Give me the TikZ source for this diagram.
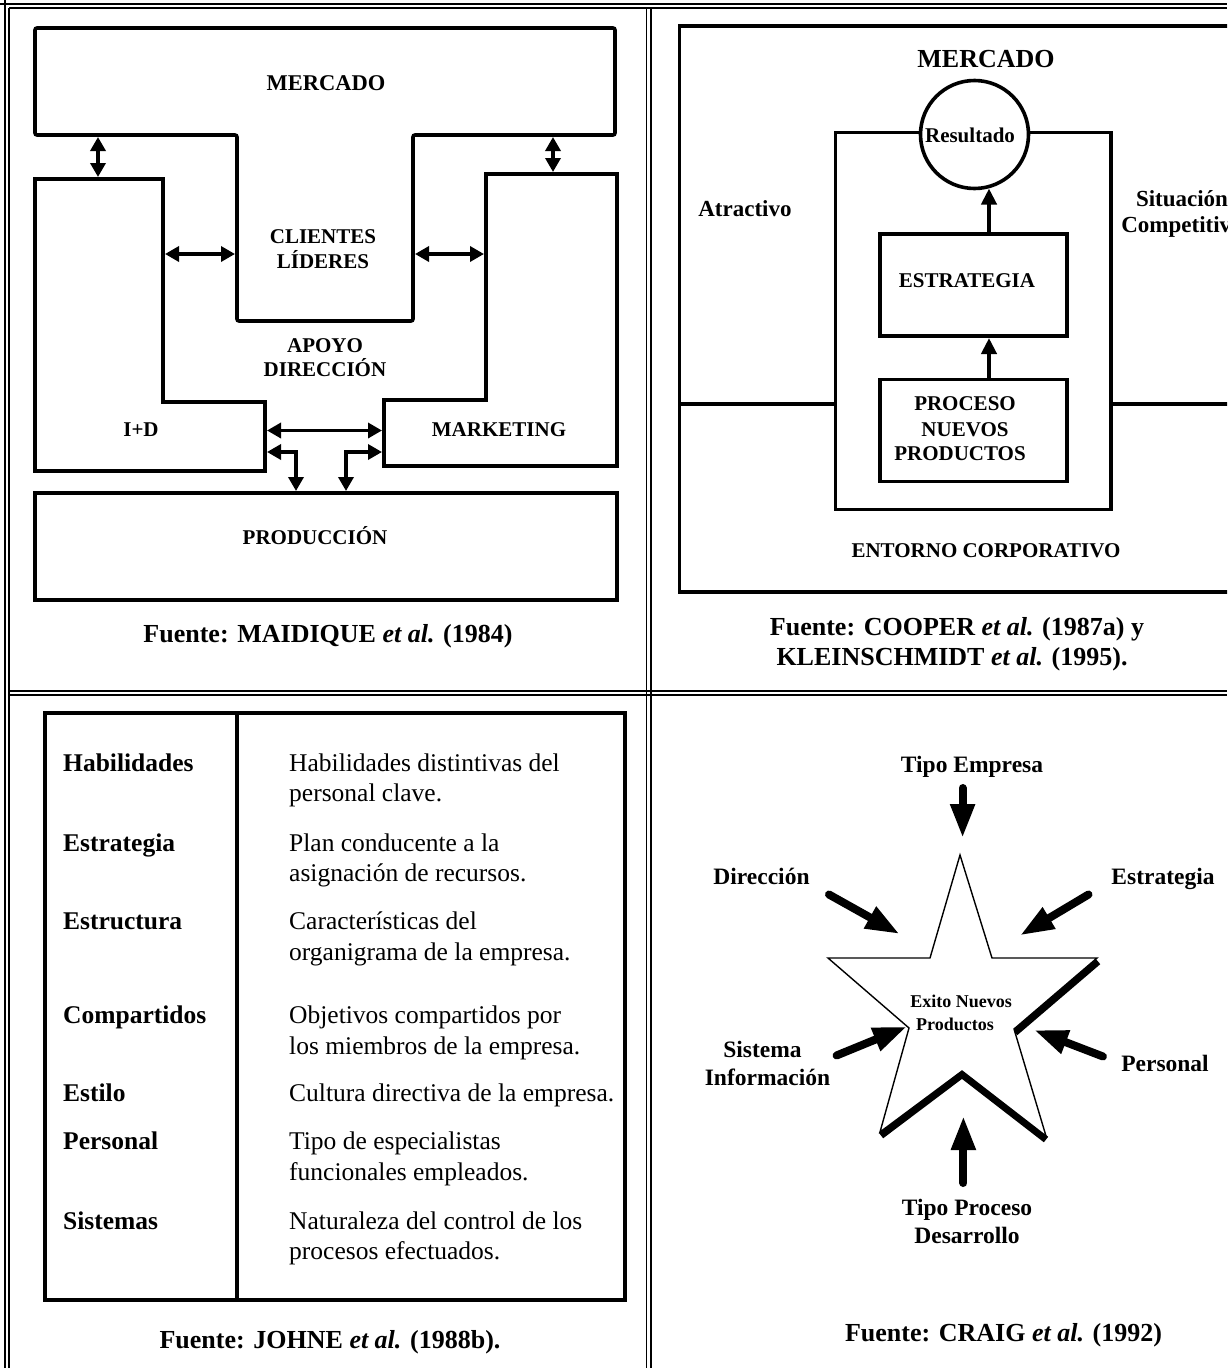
\documentclass[tikz,border=0pt]{standalone}
\usepackage{fontspec}
\setmainfont{Liberation Serif}
\usetikzlibrary{arrows.meta}
\newcommand{\fsz}[1]{\fontsize{#1}{#1}\selectfont}
\begin{document}
\begin{tikzpicture}[x=1pt,y=-1pt,
  lbl/.style={anchor=base, inner sep=0pt, font=\bfseries\fsz{21}},
  src/.style={anchor=base, inner sep=0pt, font=\bfseries\fsz{26}},
  tbl/.style={anchor=base west, inner sep=0pt, font=\fsz{25.5}},
  tblb/.style={anchor=base west, inner sep=0pt, font=\bfseries\fsz{25.5}},
  starlbl/.style={anchor=base, inner sep=0pt, font=\bfseries\fsz{23.5}},
  heavy/.style={line width=3.6pt, line join=miter},
  frameline/.style={line width=1.6pt},
  dbl/.style={line width=3.4pt, {Triangle[length=14pt,width=15pt]}-{Triangle[length=14pt,width=15pt]}},
  upar/.style={line width=4pt, -{Triangle[length=16pt,width=15pt]}},
  bigar/.style={line width=8pt, line cap=round, -{Triangle[length=34pt,width=23pt]}},
  shadow/.style={line width=7pt, line cap=butt, line join=miter},
  startline/.style={line width=1.4pt, line join=miter, fill=white}
]
\useasboundingbox (0,0) rectangle (1227,1368);
\clip (0,0) rectangle (1227,1368);
\fill[white] (0,0) rectangle (1227,1368);

% ---------- outer frame ----------
\draw[frameline] (5,0) -- (5,1368);
\draw[frameline] (9,8) -- (9,1368);
\draw[frameline] (0,4) -- (1227,4);
\draw[frameline] (9,8) -- (1227,8);
\draw[frameline] (646.5,8) -- (646.5,1368);
\draw[frameline] (651,8) -- (651,1368);
\draw[frameline] (9,691) -- (1227,691);
\draw[frameline] (9,695) -- (1227,695);

% ---------- panel 1: MAIDIQUE ----------
\draw[heavy, rounded corners=2pt] (35,28) -- (615,28) -- (615,135) -- (413,135) -- (413,321) -- (237,321) -- (237,135) -- (35,135) -- cycle;
\draw[heavy] (35,179) -- (163,179) -- (163,402) -- (265,402) -- (265,471) -- (35,471) -- cycle;
\draw[heavy] (486,174) -- (617,174) -- (617,466) -- (384,466) -- (384,400) -- (486,400) -- cycle;
\draw[heavy] (35,493) rectangle (617,600);

\node[lbl, font=\bfseries\fsz{22.5}] (mA) at (326,90) {MERCADO};
\node[lbl] (cl1) at (323,243.5) {CLIENTES};
\node[lbl] (cl2) at (323,268.5) {LÍDERES};
\node[lbl] (ap1) at (325,352.5) {APOYO};
\node[lbl] (ap2) at (325,376.5) {DIRECCIÓN};
\node[lbl] (imd) at (141,436) {I+D};
\node[lbl] (mkt) at (499,436) {MARKETING};
\node[lbl] (prd) at (315,544) {PRODUCCIÓN};
\node[src] (srcA) at (328,642) {Fuente: MAIDIQUE \textit{et al.} (1984)};

\coordinate (v1a) at (98,137);   \coordinate (v1b) at (98,177);
\coordinate (v2a) at (553,137);  \coordinate (v2b) at (553,172);
\coordinate (h1a) at (165,254);  \coordinate (h1b) at (235,254);
\coordinate (h2a) at (415,254);  \coordinate (h2b) at (484,254);
\coordinate (h3a) at (267,430.5);\coordinate (h3b) at (382,430.5);
\coordinate (b1a) at (267,452);  \coordinate (b1b) at (296,491);
\coordinate (b2a) at (382,452);  \coordinate (b2b) at (346,491);
\draw[dbl] (v1a) -- (v1b);
\draw[dbl] (v2a) -- (v2b);
\draw[dbl] (h1a) -- (h1b);
\draw[dbl] (h2a) -- (h2b);
\draw[dbl] (h3a) -- (h3b);
\draw[dbl] (b1a) -| (b1b);
\draw[dbl] (b2a) -| (b2b);

% ---------- panel 2: COOPER ----------
\draw[heavy] (679.6,26) rectangle (1250,592);
\draw[heavy] (679.6,404) -- (835.5,404);
\draw[heavy] (1111,404) -- (1250,404);
\draw[heavy] (835.5,132.3) rectangle (1111,509.5);
\node[circle, draw, heavy, fill=white, minimum size=108pt, inner sep=0pt] (res) at (974.5,134.5) {};
\node[lbl] (resl) at (970,142.5) {Resultado};
\node[draw, heavy, minimum width=187pt, minimum height=102pt, inner sep=0pt] (estr) at (973.7,285) {};
\node[draw, heavy, minimum width=187pt, minimum height=102pt, inner sep=0pt] (proc) at (973.7,430.3) {};
\node[lbl] (estrl) at (967,287) {ESTRATEGIA};
\node[lbl] (pr1) at (965,410.5) {PROCESO};
\node[lbl] (pr2) at (965,436) {NUEVOS};
\node[lbl] (pr3) at (960,460.5) {PRODUCTOS};
\node[lbl, font=\bfseries\fsz{26}] (mB) at (986,67) {MERCADO};
\node[lbl, font=\bfseries\fsz{23}] (atr) at (745,216.5) {Atractivo};
\node[lbl, font=\bfseries\fsz{23}] (sit1) at (1182,206) {Situación};
\node[lbl, font=\bfseries\fsz{23}] (sit2) at (1182,232) {Competitiva};
\node[lbl] (ent) at (986,557.5) {ENTORNO CORPORATIVO};
\node[src] (srcB1) at (957,635) {Fuente: COOPER \textit{et al.} (1987a) y};
\node[src] (srcB2) at (952,665.5) {KLEINSCHMIDT \textit{et al.} (1995).};

\coordinate (u1a) at (989,232.4); \coordinate (u1b) at (989,188.5);
\coordinate (u2a) at (989,377.6); \coordinate (u2b) at (989,338);
\draw[upar] (u1a) -- (u1b);
\draw[upar] (u2a) -- (u2b);

% ---------- panel 3: JOHNE ----------
\draw[heavy] (45,713) rectangle (625,1300);
\draw[heavy] (237,713) -- (237,1300);
\node[tblb] (t1) at (63,771.5) {Habilidades};
\node[tbl] (d1a) at (289,771.5) {Habilidades distintivas del};
\node[tbl] (d1b) at (289,801.5) {personal clave.};
\node[tblb] (t2) at (63,851) {Estrategia};
\node[tbl] (d2a) at (289,851) {Plan conducente a la};
\node[tbl] (d2b) at (289,881) {asignación de recursos.};
\node[tblb] (t3) at (63,929.5) {Estructura};
\node[tbl] (d3a) at (289,929.5) {Características del};
\node[tbl] (d3b) at (289,960) {organigrama de la empresa.};
\node[tblb] (t4) at (63,1023.5) {Compartidos};
\node[tbl] (d4a) at (289,1023.5) {Objetivos compartidos por};
\node[tbl] (d4b) at (289,1054) {los miembros de la empresa.};
\node[tblb] (t5) at (63,1101.5) {Estilo};
\node[tbl] (d5a) at (289,1101.5) {Cultura directiva de la empresa.};
\node[tblb] (t6) at (63,1149.5) {Personal};
\node[tbl] (d6a) at (289,1149.5) {Tipo de especialistas};
\node[tbl] (d6b) at (289,1180) {funcionales empleados.};
\node[tblb] (t7) at (63,1229.5) {Sistemas};
\node[tbl] (d7a) at (289,1229.5) {Naturaleza del control de los};
\node[tbl] (d7b) at (289,1259.5) {procesos efectuados.};
\node[src] (srcC) at (330,1348) {Fuente: JOHNE \textit{et al.} (1988b).};

% ---------- panel 4: CRAIG ----------
\draw[shadow] (1098,961.5) -- (1015,1032.5);
\draw[shadow] (881,1135.5) -- (962,1074.5) -- (1046,1139.5);
\draw[startline] (960,855) -- (992,958) -- (1097,958) -- (1014,1029) -- (1046,1136) -- (962,1071) -- (880,1132) -- (909,1028) -- (828,958) -- (930,958) -- cycle;
\node[anchor=base, inner sep=0pt, font=\bfseries\fsz{18}] (ex1) at (961,1007) {Exito Nuevos};
\node[anchor=base, inner sep=0pt, font=\bfseries\fsz{18}] (ex2) at (955,1030.5) {Productos};

\node[starlbl] (sTE) at (972,772) {Tipo Empresa};
\node[starlbl] (sDI) at (761.5,884) {Dirección};
\node[starlbl] (sES) at (1163,884) {Estrategia};
\node[starlbl] (sSI1) at (762.5,1057) {Sistema};
\node[starlbl] (sSI2) at (767.5,1085.5) {Información};
\node[starlbl] (sPE) at (1165,1071) {Personal};
\node[starlbl] (sTP1) at (967,1215) {Tipo Proceso};
\node[starlbl] (sTP2) at (967,1243.5) {Desarrollo};
\node[src] (srcD) at (1003.5,1341) {Fuente: CRAIG \textit{et al.} (1992)};

\coordinate (a1a) at (962.6,788);  \coordinate (a1b) at (962.6,838);
\coordinate (a2a) at (829,894.5);  \coordinate (a2b) at (899.6,934);
\coordinate (a3a) at (1088.5,894.5); \coordinate (a3b) at (1020,935.4);
\coordinate (a4a) at (836.5,1055.5); \coordinate (a4b) at (907,1026.6);
\coordinate (a5a) at (1103,1056.5); \coordinate (a5b) at (1034,1030);
\coordinate (a6a) at (963.4,1183); \coordinate (a6b) at (963.4,1116);
\draw[bigar] (a1a) -- (a1b);
\draw[bigar] (a2a) -- (a2b);
\draw[bigar] (a3a) -- (a3b);
\draw[bigar] (a4a) -- (a4b);
\draw[bigar] (a5a) -- (a5b);
\draw[bigar] (a6a) -- (a6b);
\end{tikzpicture}
\end{document}
